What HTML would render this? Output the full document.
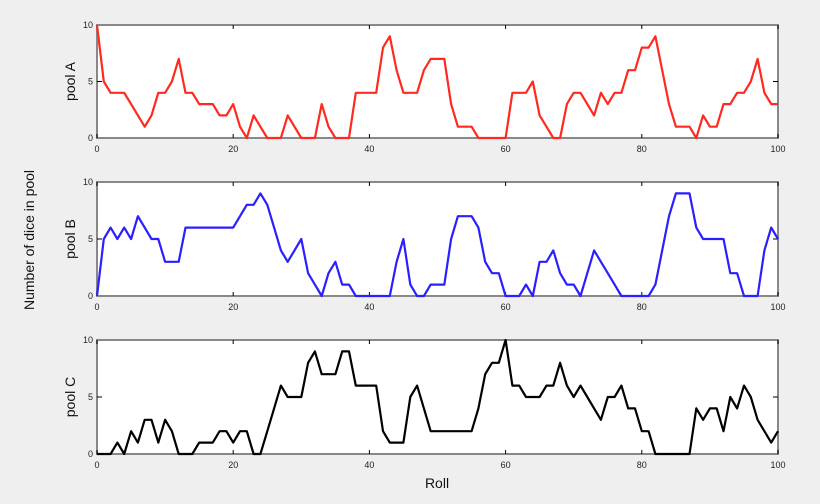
<!DOCTYPE html>
<html><head><meta charset="utf-8"><style>
html,body{margin:0;padding:0;background:#efefef;}
svg{display:block;font-family:"Liberation Sans",sans-serif;}
</style></head><body>
<svg id="s" width="820" height="504" viewBox="0 0 820 504" xmlns="http://www.w3.org/2000/svg">
<rect width="820" height="504" fill="#efefef"/>
<text x="437" y="488" font-size="14" text-anchor="middle" fill="#111">Roll</text>
<text transform="translate(34,240) rotate(-90)" font-size="14" text-anchor="middle" fill="#111">Number of dice in pool</text>
</svg>
<script>
var A=[10,5,4,4,4,3,2,1,2,4,4,5,7,4,4,3,3,3,2,2,3,1,0,2,1,0,0,0,2,1,0,0,0,3,1,0,0,0,4,4,4,4,8,9,6,4,4,4,6,7,7,7,3,1,1,1,0,0,0,0,0,4,4,4,5,2,1,0,0,3,4,4,3,2,4,3,4,4,6,6,8,8,9,6,3,1,1,1,0,2,1,1,3,3,4,4,5,7,4,3,3];
var B=[0,5,6,5,6,5,7,6,5,5,3,3,3,6,6,6,6,6,6,6,6,7,8,8,9,8,6,4,3,4,5,2,1,0,2,3,1,1,0,0,0,0,0,0,3,5,1,0,0,1,1,1,5,7,7,7,6,3,2,2,0,0,0,1,0,3,3,4,2,1,1,0,2,4,3,2,1,0,0,0,0,0,1,4,7,9,9,9,6,5,5,5,5,2,2,0,0,0,4,6,5];
var C=[0,0,0,1,0,2,1,3,3,1,3,2,0,0,0,1,1,1,2,2,1,2,2,0,0,2,4,6,5,5,5,8,9,7,7,7,9,9,6,6,6,6,2,1,1,1,5,6,4,2,2,2,2,2,2,2,4,7,8,8,10,6,6,5,5,5,6,6,8,6,5,6,5,4,3,5,5,6,4,4,2,2,0,0,0,0,0,0,4,3,4,4,2,5,4,6,5,3,2,1,2];
var panels=[[A,25,138,"#ff2a1f","pool A"],[B,182,296,"#2a1fff","pool B"],[C,340,454,"#000","pool C"]];
var s=document.getElementById('s'),h='';
var L=97,R=778;
panels.forEach(function(p){
 var d=p[0],t=p[1],b=p[2];
 h+='<rect x="'+L+'" y="'+t+'" width="'+(R-L)+'" height="'+(b-t)+'" fill="#fff"/>';
 h+='<rect x="'+L+'" y="'+t+'" width="'+(R-L)+'" height="'+(b-t)+'" fill="none" stroke="#888" stroke-width="2"/>';
 for(var i=0;i<=5;i++){var x=L+(R-L)*i/5;
  h+='<line x1="'+x+'" y1="'+t+'" x2="'+x+'" y2="'+(t+4)+'" stroke="#000" stroke-width="1"/>';
  h+='<line x1="'+x+'" y1="'+b+'" x2="'+x+'" y2="'+(b-4)+'" stroke="#000" stroke-width="1"/>';
  h+='<text x="'+x+'" y="'+(b+14)+'" font-size="9" text-anchor="middle" fill="#222">'+(i*20)+'</text>';}
 var m=(t+b)/2;
 h+='<line x1="'+L+'" y1="'+m+'" x2="'+(L+5)+'" y2="'+m+'" stroke="#000"/>';
 h+='<line x1="'+R+'" y1="'+m+'" x2="'+(R-5)+'" y2="'+m+'" stroke="#000"/>';
 [[10,t],[5,m],[0,b]].forEach(function(q){h+='<text x="'+(L-4)+'" y="'+(q[1]+3)+'" font-size="9" text-anchor="end" fill="#222">'+q[0]+'</text>';});
 var pts=d.map(function(v,i){return (L+(R-L)*i/100).toFixed(1)+','+(b-(b-t)*v/10).toFixed(1);}).join(' ');
 h+='<polyline points="'+pts+'" fill="none" stroke="'+p[3]+'" stroke-width="2.2" stroke-linejoin="round"/>';
 h+='<text transform="translate(75,'+m+') rotate(-90)" font-size="14" text-anchor="middle" fill="#111">'+p[4]+'</text>';
});
s.insertAdjacentHTML('beforeend',h);
</script>
</body></html>
